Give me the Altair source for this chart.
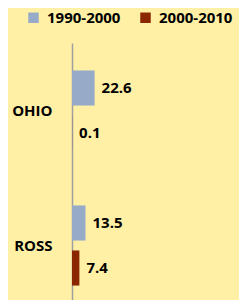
import altair as alt
import pandas as pd

counties = ["OHIO", "OHIO", "ROSS", "ROSS"]
periods = ["1990-2000", "2000-2010", "1990-2000", "2000-2010"]
values = [22.6, 0.1, 13.5, 7.4]
labels = ["22.6", "0.1", "13.5", "7.4"]

period_order = ["1990-2000", "2000-2010"]
period_colors = ["#97ABC8", "#8A2700"]

df = pd.DataFrame({"county": counties, "period": periods, "value": values, "label": labels})

FONT = "Open Sans"

y_enc = alt.Y("county:N", sort=["OHIO", "ROSS"],
              scale=alt.Scale(range=[0, 270], paddingInner=0, paddingOuter=0),
              axis=alt.Axis(title=None, domainColor="#A0A0A0", domainWidth=1.5, ticks=False,
                            grid=False, labelFont=FONT, labelFontWeight="bold", labelFontSize=15,
                            labelColor="#000000", labelPadding=20))
yoff = alt.YOffset("period:N", sort=period_order,
                   scale=alt.Scale(paddingInner=0.22, paddingOuter=0.61))
x_enc = alt.X("value:Q", scale=alt.Scale(domain=[0, 167]), axis=None)

bars = alt.Chart(df).mark_bar().encode(
    y=y_enc, yOffset=yoff, x=x_enc,
    color=alt.Color("period:N", sort=period_order,
                    scale=alt.Scale(domain=period_order, range=period_colors),
                    legend=alt.Legend(title=None, orient="none", legendX=-46, legendY=-33,
                                      direction="horizontal", symbolType="square", symbolSize=110,
                                      symbolStrokeWidth=0, labelFont=FONT, labelFontWeight="bold",
                                      labelFontSize=15, labelColor="#000000", labelOffset=6,
                                      columnPadding=17, padding=0))
)

text = alt.Chart(df).mark_text(align="left", baseline="middle", dx=7, font=FONT,
                               fontWeight="bold", fontSize=15, color="#000000").encode(
    y=y_enc, yOffset=yoff, x=x_enc, text="label:N"
)

chart = alt.layer(bars, text).properties(
    width=167, height=257,
    autosize=alt.AutoSizeParams(type="none"),
    padding={"left": 64, "top": 35, "right": 0, "bottom": 0},
    background="#FFF0A6",
).configure_view(stroke=None)

chart.save("out.html", embed_options={"renderer": "svg", "actions": False})
